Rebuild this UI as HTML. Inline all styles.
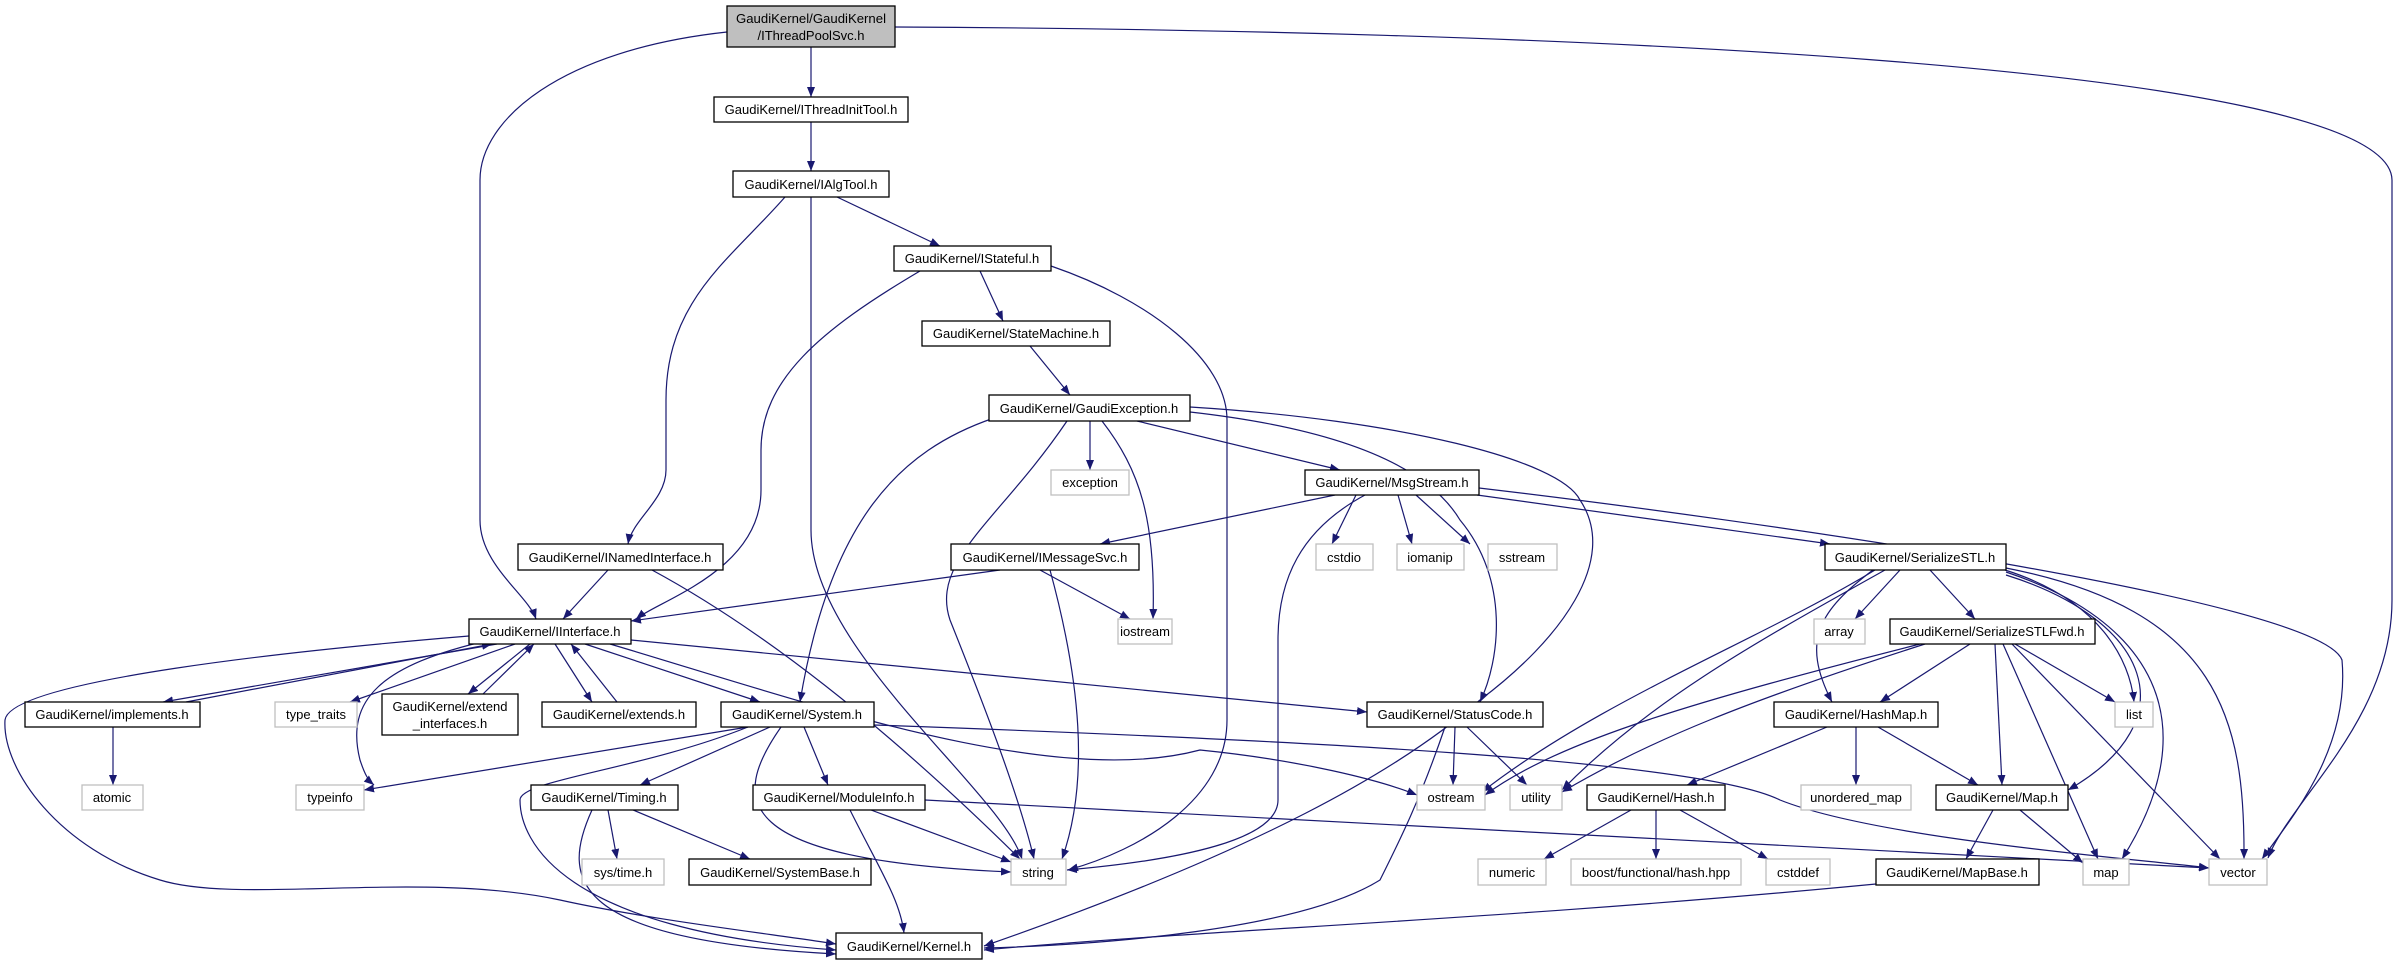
<!DOCTYPE html>
<html><head><meta charset="utf-8"><style>
html,body{margin:0;padding:0;background:#fff;}
svg text{font-family:"Liberation Sans",sans-serif;font-size:13px;fill:#000;}
</style></head><body>
<svg width="2401" height="965" viewBox="0 0 2401 965" xmlns="http://www.w3.org/2000/svg">
<defs>
<marker id="a" viewBox="0 0 10 10" refX="10" refY="5" markerWidth="10" markerHeight="10" markerUnits="userSpaceOnUse" orient="auto">
<path d="M0,1 L10,5 L0,9 z" fill="#191970"/>
</marker>
</defs>
<g fill="none" stroke="#191970" stroke-width="1.2" marker-end="url(#a)">
<path d="M811,47 L811,97"/>
<path d="M727,32 C560,50 480,120 480,180 L480,520 C480,565 528,595 536,619"/>
<path d="M895,27 C1500,30 2390,60 2392,180 L2392,600 C2392,720 2290,800 2268,858"/>
<path d="M811,122 L811,171"/>
<path d="M837,197 L940,246"/>
<path d="M785,197 C730,260 666,300 666,400 L666,470 C666,500 632,520 628,544"/>
<path d="M811,197 L811,530 C811,650 1000,790 1022,859"/>
<path d="M980,271 L1003,321"/>
<path d="M920,271 C820,330 761,380 761,450 L761,490 C761,570 660,600 636,619"/>
<path d="M1051,266 C1150,300 1227,360 1227,420 L1227,720 C1227,800 1140,850 1068,870"/>
<path d="M1030,346 L1070,395"/>
<path d="M1090,421 L1090,470"/>
<path d="M1137,421 L1340,470"/>
<path d="M1102,421 C1140,470 1156,520 1153,619"/>
<path d="M1067,421 C1000,520 930,560 950,620 C990,720 1020,800 1034,859"/>
<path d="M994,418 C900,450 830,520 800,702"/>
<path d="M1190,412 C1350,430 1430,470 1460,520 C1510,580 1500,660 1480,702"/>
<path d="M1190,407 C1400,420 1560,460 1580,500 C1620,560 1560,640 1480,700 C1400,770 1260,850 984,946"/>
<path d="M1356,495 L1332,544"/>
<path d="M1398,495 L1412,544"/>
<path d="M1416,495 L1470,544"/>
<path d="M1335,495 L1100,544"/>
<path d="M1477,495 L1830,544"/>
<path d="M1365,495 C1300,530 1278,580 1278,640 L1278,800 C1278,840 1180,860 1067,870"/>
<path d="M1479,488 C1750,520 2320,600 2342,660 C2350,750 2290,820 2262,859"/>
<path d="M1000,570 L631,621"/>
<path d="M1040,570 L1130,619"/>
<path d="M1050,570 C1080,680 1090,780 1062,859"/>
<path d="M608,570 L563,619"/>
<path d="M652,570 C800,650 940,780 1020,859"/>
<path d="M497,644 L163,702"/>
<path d="M186,702 L492,644"/>
<path d="M515,644 L350,702"/>
<path d="M530,644 L468,694"/>
<path d="M483,694 L534,644"/>
<path d="M555,644 L592,702"/>
<path d="M617,702 L571,644"/>
<path d="M585,644 L760,702"/>
<path d="M490,640 C380,665 345,700 360,760 C365,775 368,780 374,785"/>
<path d="M469,636 C300,650 10,680 5,720 C2,770 60,850 160,880 C240,905 420,870 560,900 C650,920 780,935 836,944"/>
<path d="M610,644 C800,700 1050,790 1200,750 C1300,760 1380,780 1417,795"/>
<path d="M631,640 L1367,712"/>
<path d="M113,727 L113,785"/>
<path d="M748,727 L364,790"/>
<path d="M770,727 L640,785"/>
<path d="M804,727 L828,785"/>
<path d="M781,727 C730,800 730,860 1011,872"/>
<path d="M748,727 C640,770 520,780 520,800 C520,840 560,930 836,950"/>
<path d="M874,725 C1300,740 1700,760 1780,800 C1880,840 2150,860 2209,868"/>
<path d="M608,810 L617,859"/>
<path d="M633,810 L750,859"/>
<path d="M592,810 C560,880 570,940 836,954"/>
<path d="M871,810 L1011,862"/>
<path d="M850,810 C880,870 900,900 904,933"/>
<path d="M925,800 L2209,868"/>
<path d="M1455,727 L1453,785"/>
<path d="M1467,727 L1527,785"/>
<path d="M1445,727 C1420,800 1400,840 1380,880 C1300,930 1100,945 984,948"/>
<path d="M1900,570 L1855,619"/>
<path d="M1930,570 L1975,619"/>
<path d="M1873,570 C1820,610 1800,640 1832,702"/>
<path d="M1875,570 C1760,640 1600,700 1482,792"/>
<path d="M1885,570 C1760,640 1650,700 1562,790"/>
<path d="M2005,570 C2100,600 2130,660 2134,702"/>
<path d="M2006,575 C2150,620 2190,720 2068,790"/>
<path d="M2006,572 C2150,620 2210,720 2122,859"/>
<path d="M2006,568 C2220,610 2245,720 2244,859"/>
<path d="M1970,644 L1880,702"/>
<path d="M1995,644 L2002,785"/>
<path d="M2003,644 L2098,859"/>
<path d="M2012,644 L2220,859"/>
<path d="M2015,644 L2115,702"/>
<path d="M1920,644 C1700,700 1560,740 1485,795"/>
<path d="M1925,644 C1750,700 1650,740 1562,792"/>
<path d="M1827,727 L1687,785"/>
<path d="M1856,727 L1856,785"/>
<path d="M1878,727 L1978,785"/>
<path d="M1631,810 L1544,859"/>
<path d="M1656,810 L1656,859"/>
<path d="M1680,810 L1768,859"/>
<path d="M1993,810 L1966,859"/>
<path d="M2020,810 L2083,863"/>
<path d="M1876,884 C1500,920 1200,930 984,950"/>
</g>
<g stroke-width="1.3">
<rect x="727" y="6" width="168" height="41" fill="#bfbfbf" stroke="#000"/>
<text x="811" y="23" text-anchor="middle" textLength="150" lengthAdjust="spacingAndGlyphs">GaudiKernel/GaudiKernel</text>
<text x="811" y="40" text-anchor="middle">/IThreadPoolSvc.h</text>
</g>
<g fill="#fff" stroke="#000" stroke-width="1.3">
<rect x="714" y="97" width="194" height="25"/>
<rect x="733" y="171" width="156" height="26"/>
<rect x="894" y="246" width="157" height="25"/>
<rect x="922" y="321" width="188" height="25"/>
<rect x="989" y="395" width="201" height="26"/>
<rect x="1305" y="470" width="174" height="25"/>
<rect x="518" y="544" width="205" height="26"/>
<rect x="951" y="544" width="188" height="26"/>
<rect x="1825" y="544" width="181" height="26"/>
<rect x="469" y="619" width="162" height="25"/>
<rect x="1890" y="619" width="205" height="25"/>
<rect x="25" y="702" width="175" height="25"/>
<rect x="382" y="694" width="136" height="41"/>
<rect x="542" y="702" width="154" height="25"/>
<rect x="721" y="702" width="153" height="25"/>
<rect x="1367" y="702" width="176" height="25"/>
<rect x="1774" y="702" width="164" height="25"/>
<rect x="531" y="785" width="147" height="25"/>
<rect x="753" y="785" width="172" height="25"/>
<rect x="1587" y="785" width="138" height="25"/>
<rect x="1936" y="785" width="132" height="25"/>
<rect x="689" y="859" width="182" height="26"/>
<rect x="1876" y="859" width="163" height="26"/>
<rect x="836" y="933" width="146" height="26"/>
</g>
<g fill="#fff" stroke="#bfbfbf" stroke-width="1.3">
<rect x="1051" y="470" width="78" height="25"/>
<rect x="1316" y="544" width="57" height="26"/>
<rect x="1397" y="544" width="67" height="26"/>
<rect x="1488" y="544" width="69" height="26"/>
<rect x="1118" y="619" width="54" height="25"/>
<rect x="1814" y="619" width="51" height="25"/>
<rect x="275" y="702" width="82" height="25"/>
<rect x="2115" y="702" width="38" height="25"/>
<rect x="82" y="785" width="61" height="25"/>
<rect x="296" y="785" width="68" height="25"/>
<rect x="1417" y="785" width="68" height="25"/>
<rect x="1510" y="785" width="52" height="25"/>
<rect x="1801" y="785" width="110" height="25"/>
<rect x="582" y="859" width="82" height="26"/>
<rect x="1011" y="859" width="55" height="26"/>
<rect x="1478" y="859" width="68" height="26"/>
<rect x="1571" y="859" width="170" height="26"/>
<rect x="1766" y="859" width="64" height="26"/>
<rect x="2083" y="859" width="46" height="26"/>
<rect x="2209" y="859" width="58" height="26"/>
</g>
<g text-anchor="middle">
<text x="811" y="114">GaudiKernel/IThreadInitTool.h</text>
<text x="811" y="189">GaudiKernel/IAlgTool.h</text>
<text x="972" y="263">GaudiKernel/IStateful.h</text>
<text x="1016" y="338">GaudiKernel/StateMachine.h</text>
<text x="1089" y="413">GaudiKernel/GaudiException.h</text>
<text x="1392" y="487">GaudiKernel/MsgStream.h</text>
<text x="620" y="562">GaudiKernel/INamedInterface.h</text>
<text x="1045" y="562">GaudiKernel/IMessageSvc.h</text>
<text x="1915" y="562">GaudiKernel/SerializeSTL.h</text>
<text x="550" y="636">GaudiKernel/IInterface.h</text>
<text x="1992" y="636">GaudiKernel/SerializeSTLFwd.h</text>
<text x="112" y="719">GaudiKernel/implements.h</text>
<text x="450" y="711">GaudiKernel/extend</text>
<text x="450" y="728">_interfaces.h</text>
<text x="619" y="719">GaudiKernel/extends.h</text>
<text x="797" y="719">GaudiKernel/System.h</text>
<text x="1455" y="719">GaudiKernel/StatusCode.h</text>
<text x="1856" y="719">GaudiKernel/HashMap.h</text>
<text x="604" y="802">GaudiKernel/Timing.h</text>
<text x="839" y="802">GaudiKernel/ModuleInfo.h</text>
<text x="1656" y="802">GaudiKernel/Hash.h</text>
<text x="2002" y="802">GaudiKernel/Map.h</text>
<text x="780" y="877">GaudiKernel/SystemBase.h</text>
<text x="1957" y="877">GaudiKernel/MapBase.h</text>
<text x="909" y="951">GaudiKernel/Kernel.h</text>
<text x="1090" y="487" fill="#000">exception</text>
<text x="1344" y="562">cstdio</text>
<text x="1430" y="562">iomanip</text>
<text x="1522" y="562">sstream</text>
<text x="1145" y="636">iostream</text>
<text x="1839" y="636">array</text>
<text x="316" y="719">type_traits</text>
<text x="2134" y="719">list</text>
<text x="112" y="802">atomic</text>
<text x="330" y="802">typeinfo</text>
<text x="1451" y="802">ostream</text>
<text x="1536" y="802">utility</text>
<text x="1856" y="802">unordered_map</text>
<text x="623" y="877">sys/time.h</text>
<text x="1038" y="877">string</text>
<text x="1512" y="877">numeric</text>
<text x="1656" y="877">boost/functional/hash.hpp</text>
<text x="1798" y="877">cstddef</text>
<text x="2106" y="877">map</text>
<text x="2238" y="877">vector</text>
</g>
</svg>
</body></html>
